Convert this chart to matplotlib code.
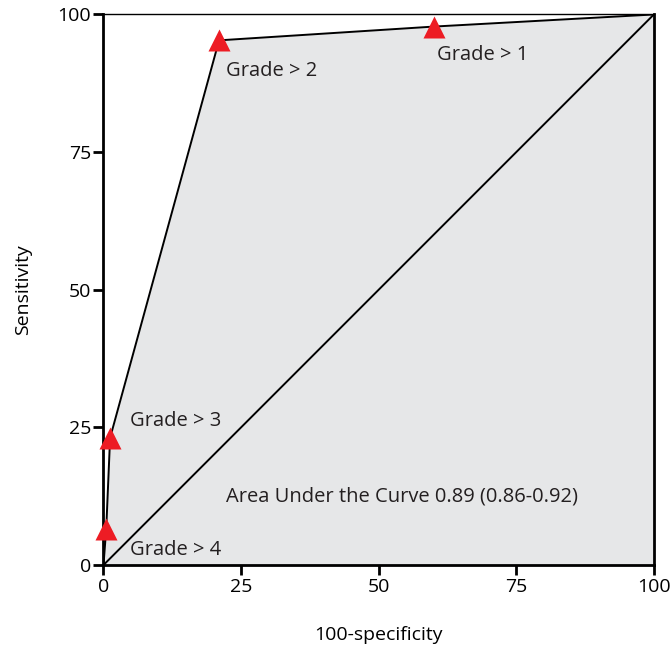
import matplotlib
matplotlib.use("Agg")
import matplotlib.pyplot as plt
import numpy as np

plt.rcParams['font.family'] = ['Open Sans', 'DejaVu Sans']

# ROC operating points (100-specificity, sensitivity), one per grade cut-off
fpr = [0, 0.5, 1.2, 21.0, 60.0, 100]
tpr = [0, 6.6, 23.1, 95.3, 97.8, 100]
point_labels = ["Grade > 4", "Grade > 3", "Grade > 2", "Grade > 1"]
label_pos = [(4.8, 1.0), (4.8, 24.3), (22.3, 88.0), (60.6, 90.8)]
auc_text = "Area Under the Curve 0.89 (0.86-0.92)"
ticks = [0, 25, 50, 75, 100]

fig = plt.figure(figsize=(6.72, 6.49), dpi=100)
ax = fig.add_axes([0.154, 0.1294, 0.819, 0.8483])

# shaded area under the curve
ax.fill_between(fpr, tpr, 0, color="#e6e7e8", lw=0, zorder=1)
ax.plot(fpr, tpr, color="black", lw=1.4, zorder=2)
ax.plot([0, 100], [0, 100], color="black", lw=1.4, zorder=2)
ax.plot(fpr[1:-1], tpr[1:-1], ls="none", marker="^", ms=16,
        color="#ed1c24", mec="none", zorder=3, clip_on=False)

for txt, (x, y) in zip(point_labels, label_pos):
    ax.text(x, y, txt, fontsize=14.5, color="#231f20", va="bottom", ha="left")
ax.text(22.3, 10.6, auc_text, fontsize=14.5, color="#231f20",
        va="bottom", ha="left")

ax.set_xlim(0, 100)
ax.set_ylim(0, 100)
ax.set_xticks(ticks)
ax.set_yticks(ticks)
ax.tick_params(direction="out", length=7, width=2, labelsize=14,
               colors="black", pad=2)
for side in ["left", "bottom", "right"]:
    ax.spines[side].set_linewidth(2)
ax.spines["top"].set_linewidth(1)

ax.set_xlabel("100-specificity", fontsize=14, labelpad=22)
ax.set_ylabel("Sensitivity", fontsize=14, labelpad=18)

fig.savefig("out.png", dpi=100)
